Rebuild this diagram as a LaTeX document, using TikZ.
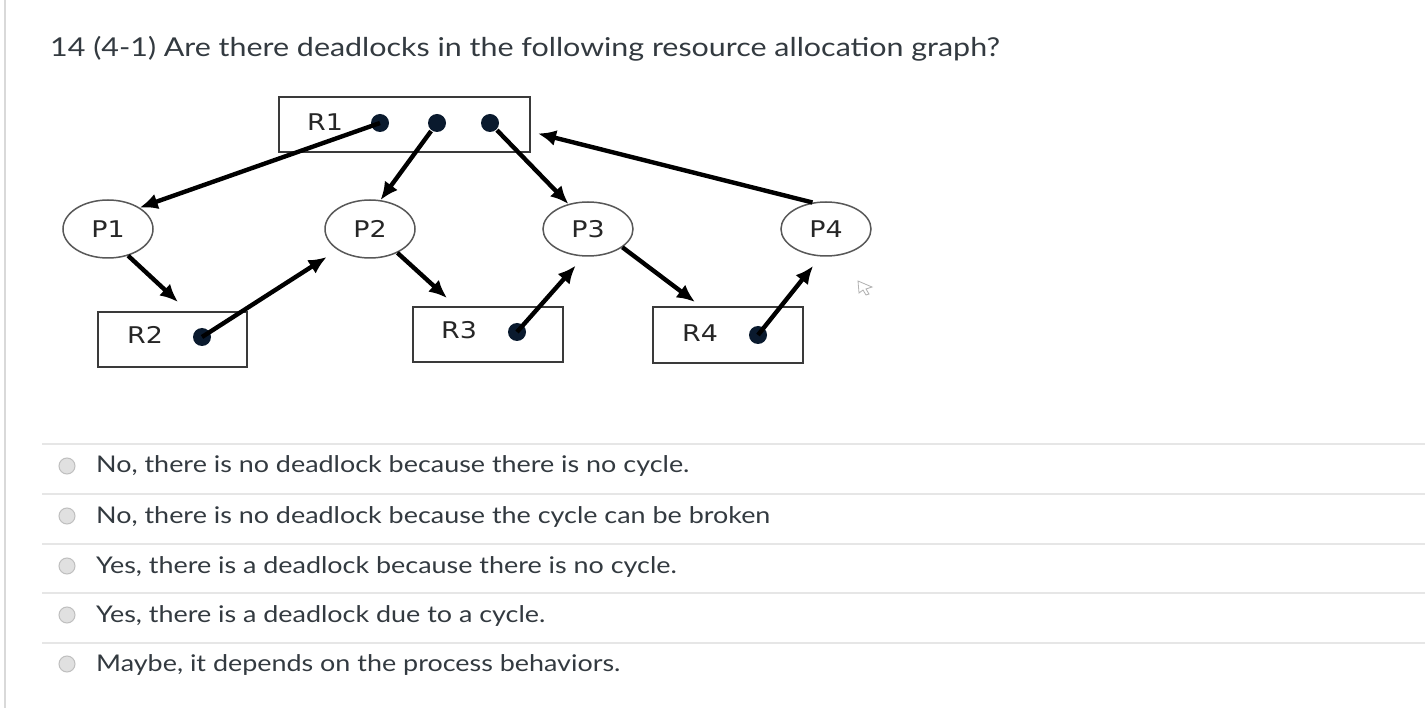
\documentclass[tikz,border=0pt]{standalone}
\usepackage{fontspec}
\usepackage{graphicx}
\setmainfont{Lato}
\newfontfamily\lblfont{DejaVu Sans}
\usetikzlibrary{arrows.meta,shapes.geometric,calc}
\newcommand\widetext[1]{\scalebox{1.17}[1]{#1}}
\definecolor{txt}{HTML}{333A40}
\definecolor{sep}{HTML}{E6E6E6}
\definecolor{edge}{HTML}{3A3A3A}
\definecolor{dotc}{HTML}{0A1A2E}
\tikzset{
  res/.style={draw=edge, line width=2.6pt, rectangle, inner sep=0pt, outer sep=0pt},
  proc/.style={draw=edge!85, line width=1.5pt, ellipse, minimum width=90pt, minimum height=58pt, inner sep=0pt, font=\lblfont\fontsize{23}{23}\selectfont, text=black!85},
  lbl/.style={font=\lblfont\fontsize{23}{23}\selectfont, inner sep=0pt, text=black!85},
  rdot/.style={circle, fill=dotc, minimum size=18pt, inner sep=0pt, outer sep=1pt},
  arr/.style={line width=4.4pt, -{Latex[length=18pt,width=16pt]}},
  title/.style={font=\fontsize{26}{30}\selectfont, text=txt, anchor=base west, inner sep=0pt},
  opt/.style={font=\fontsize{23}{27}\selectfont, text=txt, anchor=base west, inner sep=0pt},
  radio/.style={circle, draw=black!25, line width=1pt, fill=black!12, minimum size=16pt, inner sep=0pt},
  sepline/.style={draw=sep, line width=2pt}
}
\begin{document}
\begin{tikzpicture}[x=1pt,y=-1pt]
\useasboundingbox[fill=white] (0,0) rectangle (1425,708);
\draw[draw=black!15, line width=2pt] (5,0) -- (5,708);

\node[title] (T) at (50,57) {\widetext{14 (4-1) Are there deadlocks in the following resource allocation graph?}};

% resources
\node[res, minimum width=251pt, minimum height=55pt] (R1) at (404.5,124.5) {};
\node[res, minimum width=149pt, minimum height=55pt] (R2) at (172.5,339.5) {};
\node[res, minimum width=150pt, minimum height=55pt] (R3) at (488,334.5) {};
\node[res, minimum width=150pt, minimum height=56pt] (R4) at (728,335) {};
\node[lbl] (l1) at (325,122) {\widetext{R1}};
\node[lbl] (l2) at (145,335) {\widetext{R2}};
\node[lbl] (l3) at (459,330) {\widetext{R3}};
\node[lbl] (l4) at (700,333) {\widetext{R4}};
\node[rdot] (r1a) at (380,123) {};
\node[rdot] (r1b) at (437,123) {};
\node[rdot] (r1c) at (490,123) {};
\node[rdot] (r2) at (202,337) {};
\node[rdot] (r3) at (517,332) {};
\node[rdot] (r4) at (758,335) {};

% processes
\node[proc] (P1) at (108,229) {\widetext{P1}};
\node[proc] (P2) at (370,229) {\widetext{P2}};
\node[proc, minimum height=54pt] (P3) at (588,229) {\widetext{P3}};
\node[proc, minimum height=54pt] (P4) at (826,229) {\widetext{P4}};

% edges
\draw[arr] (r1a.center) -- (P1.34);
\draw[arr] (r1b) -- (P2.70);
\draw[arr] (r1c) -- (P3.128);
\draw[arr] (P4.117) -- ([xshift=8pt,yshift=-9pt]R1.east);
\draw[arr] (P1.-53) -- ([xshift=5.5pt,yshift=10pt]R2.north);
\draw[arr, shorten >=13pt] (r2.center) -- (P2.213);
\draw[arr] (P2.-41) -- ([xshift=-41pt,yshift=9pt]R3.north);
\draw[arr, shorten >=12pt] (r3.center) -- (P3.-99);
\draw[arr] (P3.-28) -- ([xshift=-33pt,yshift=5pt]R4.north);
\draw[arr, shorten >=12pt] (r4.center) -- (P4.-101);

% cursor
\draw[black!30, line width=0.8pt] (858,281) -- (872,287) -- (866,289) -- (869,294) -- (866,295) -- (863,290) -- (859,293) -- cycle;

% options
\foreach \y in {444,494,544,593,643} \draw[sepline] (42,\y) -- (1425,\y);
\node[radio] (c1) at (67,466) {};
\node[radio] (c2) at (67,516) {};
\node[radio] (c3) at (67,566) {};
\node[radio] (c4) at (67,615) {};
\node[radio] (c5) at (67,664) {};
\node[opt] (o1) at (96,473) {\widetext{No, there is no deadlock because there is no cycle.}};
\node[opt] (o2) at (96,523) {\widetext{No, there is no deadlock because the cycle can be broken}};
\node[opt] (o3) at (96,573) {\widetext{Yes, there is a deadlock because there is no cycle.}};
\node[opt] (o4) at (96,622) {\widetext{Yes, there is a deadlock due to a cycle.}};
\node[opt] (o5) at (96,671) {\widetext{Maybe, it depends on the process behaviors.}};
\end{tikzpicture}
\end{document}
